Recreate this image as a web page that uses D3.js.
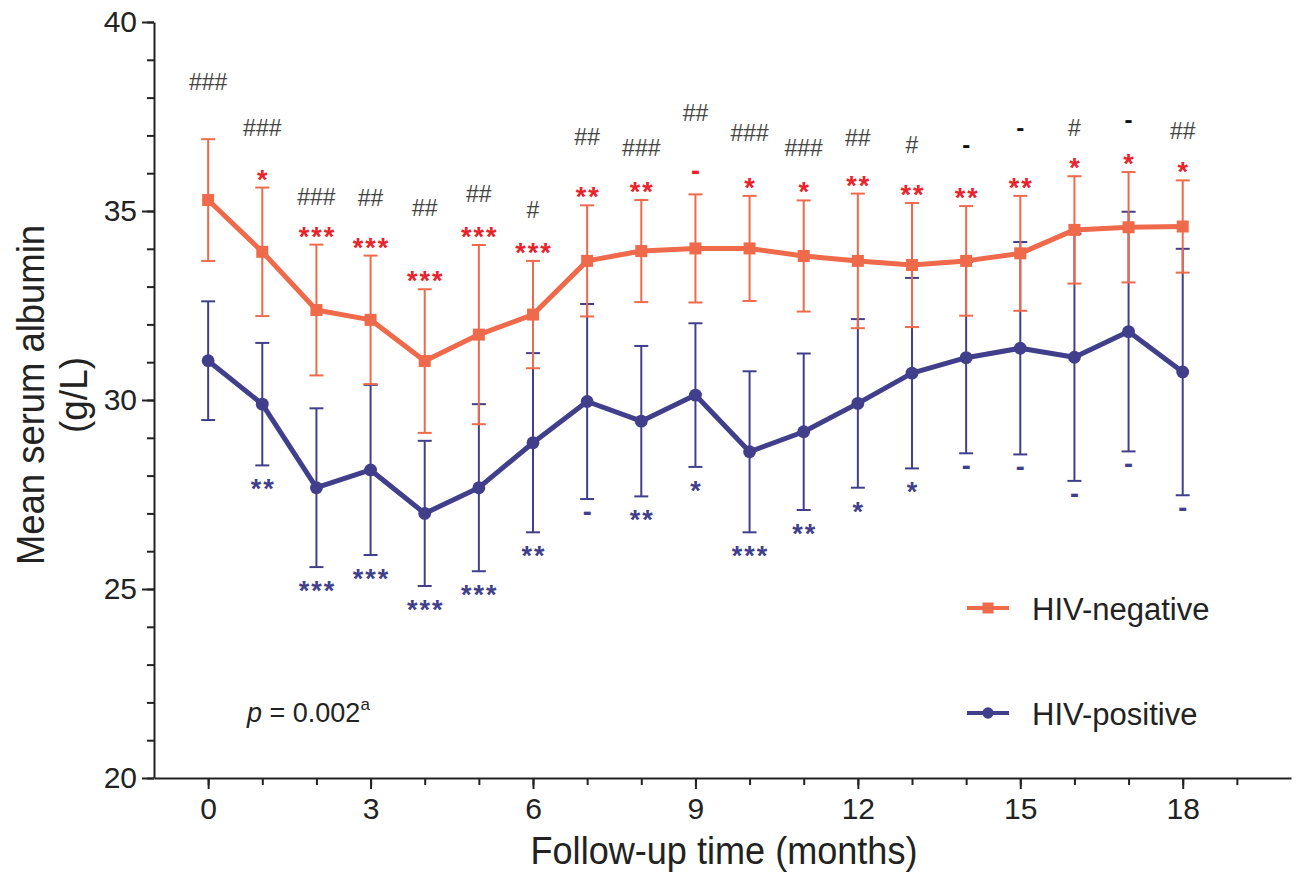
<!DOCTYPE html>
<html>
<head>
<meta charset="utf-8">
<script src="https://cdn.jsdelivr.net/npm/d3@7"></script>
<style>
  body { margin: 0; background: #fff; }
  text { font-family: "Liberation Sans", Arial, sans-serif; }
</style>
</head>
<body>
<div id="chart"></div>
<script>
// data
var months = [0, 1, 2, 3, 4, 5, 6, 7, 8, 9, 10, 11, 12, 13, 14, 15, 16, 17, 18];

var negMean = [35.29, 33.92, 32.38, 32.12, 31.03, 31.73, 32.26, 33.68, 33.94, 34.01, 34.01, 33.81, 33.68, 33.57, 33.68, 33.88, 34.50, 34.57, 34.59];
var negSD   = [1.61, 1.70, 1.73, 1.70, 1.90, 2.37, 1.42, 1.47, 1.35, 1.43, 1.39, 1.47, 1.78, 1.64, 1.45, 1.52, 1.42, 1.46, 1.22];

var posMean = [31.04, 29.89, 27.68, 28.15, 27.00, 27.68, 28.87, 29.96, 29.44, 30.13, 28.63, 29.16, 29.91, 30.71, 31.12, 31.37, 31.13, 31.81, 30.74];
var posSD   = [1.57, 1.62, 2.10, 2.25, 1.92, 2.21, 2.37, 2.58, 1.99, 1.90, 2.13, 2.07, 2.23, 2.52, 2.53, 2.81, 3.27, 3.17, 3.26];

// significance marks
var negMarks = ["", "*", "***", "***", "***", "***", "***", "**", "**", "-", "*", "*", "**", "**", "**", "**", "*", "*", "*"];
var posMarks = ["", "**", "***", "***", "***", "***", "**", "-", "**", "*", "***", "**", "*", "*", "-", "-", "-", "-", "-"];
var betweenMarks = ["###", "###", "###", "##", "##", "##", "#", "##", "###", "##", "###", "###", "##", "#", "-", "-", "#", "-", "##"];
var betweenLevel = [38.42, 37.20, 35.38, 35.35, 35.08, 35.45, 35.03, 36.97, 36.67, 37.59, 37.07, 36.67, 36.93, 36.75, 36.72, 37.18, 37.20, 37.38, 37.12];

var xTicks = [0, 3, 6, 9, 12, 15, 18];
var yTicks = [20, 25, 30, 35, 40];

var svgWidth = 1297;
var svgHeight = 878;

var margin = { top: 22, right: 6, bottom: 100, left: 154 };
var width = svgWidth - margin.left - margin.right;
var height = svgHeight - margin.top - margin.bottom;

var orange = "#ee6a4b";
var navy = "#413f8c";
var red = "#e8232b";

var svg = d3.select("#chart")
  .append("svg")
  .attr("width", svgWidth)
  .attr("height", svgHeight);

var chartGroup = svg.append("g")
  .attr("transform", `translate(${margin.left}, ${margin.top})`);

var x = d3.scaleLinear().domain([-1, 20]).range([0, width]);
var y = d3.scaleLinear().domain([20, 40]).range([height, 0]);

// minor ticks first, then major axes
chartGroup.append("g")
  .attr("transform", `translate(0, ${height})`)
  .call(d3.axisBottom(x).tickValues(d3.range(0, 20)).tickSize(7).tickSizeOuter(0).tickFormat(""))
  .call(g => g.select(".domain").remove())
  .selectAll("line").attr("stroke", "#222").attr("stroke-width", 2);

chartGroup.append("g")
  .call(d3.axisLeft(y).tickValues(d3.range(20, 41)).tickSize(7).tickSizeOuter(0).tickFormat(""))
  .call(g => g.select(".domain").remove())
  .selectAll("line").attr("stroke", "#222").attr("stroke-width", 2);

var xAxis = chartGroup.append("g")
  .attr("transform", `translate(0, ${height})`)
  .call(d3.axisBottom(x).tickValues(xTicks).tickSize(11).tickPadding(9).tickSizeOuter(0));

var yAxis = chartGroup.append("g")
  .call(d3.axisLeft(y).tickValues(yTicks).tickSize(12).tickPadding(5).tickSizeOuter(0));

[xAxis, yAxis].forEach(function(ax) {
  ax.select(".domain").attr("stroke", "#222").attr("stroke-width", 2);
  ax.selectAll("line").attr("stroke", "#222").attr("stroke-width", 2);
  ax.selectAll("text")
    .attr("font-size", "30px")
    .attr("font-family", "Liberation Sans, Arial, sans-serif")
    .attr("fill", "#222");
});

// series
var series = [
  { name: "HIV-negative", mean: negMean, sd: negSD, color: orange, shape: "square", marks: negMarks },
  { name: "HIV-positive", mean: posMean, sd: posSD, color: navy, shape: "circle", marks: posMarks }
];

// draw the positive group first so the negative group sits on top
series.slice().reverse().forEach(function(s) {
  var pts = months.map((m, i) => ({ m: m, v: s.mean[i], sd: s.sd[i] }));
  var g = chartGroup.append("g");

  var bars = g.selectAll(".err").data(pts).enter().append("g");
  bars.append("line")
    .attr("x1", d => x(d.m)).attr("x2", d => x(d.m))
    .attr("y1", d => y(d.v + d.sd)).attr("y2", d => y(d.v - d.sd))
    .attr("stroke", s.color).attr("stroke-width", 2);
  bars.append("line")
    .attr("x1", d => x(d.m) - 7).attr("x2", d => x(d.m) + 7)
    .attr("y1", d => y(d.v + d.sd)).attr("y2", d => y(d.v + d.sd))
    .attr("stroke", s.color).attr("stroke-width", 2);
  bars.append("line")
    .attr("x1", d => x(d.m) - 7).attr("x2", d => x(d.m) + 7)
    .attr("y1", d => y(d.v - d.sd)).attr("y2", d => y(d.v - d.sd))
    .attr("stroke", s.color).attr("stroke-width", 2);

  g.append("path")
    .datum(pts)
    .attr("fill", "none")
    .attr("stroke", s.color)
    .attr("stroke-width", 5)
    .attr("stroke-linejoin", "round")
    .attr("d", d3.line().x(d => x(d.m)).y(d => y(d.v)));

  var sym = d3.symbol().type(s.shape === "square" ? d3.symbolSquare : d3.symbolCircle).size(s.shape === "square" ? 144 : 130);
  g.selectAll(".pt").data(pts).enter().append("path")
    .attr("transform", d => `translate(${x(d.m)}, ${y(d.v)})`)
    .attr("d", sym)
    .attr("fill", s.color);
});

// significance marks
var markFont = "DejaVu Sans, sans-serif";

chartGroup.selectAll(".negmark")
  .data(months.map((m, i) => ({ m: m, t: negMarks[i], top: negMean[i] + negSD[i] })))
  .enter().append("text")
  .attr("x", d => x(d.m) + 1)
  .attr("y", d => y(d.top) + (d.t === "-" ? -14 : 1))
  .attr("text-anchor", "middle")
  .attr("font-family", markFont)
  .attr("font-weight", "bold")
  .attr("font-size", "27px")
  .attr("letter-spacing", "2px")
  .attr("fill", red)
  .text(d => d.t);

chartGroup.selectAll(".posmark")
  .data(months.map((m, i) => ({ m: m, t: posMarks[i], bot: posMean[i] - posSD[i] })))
  .enter().append("text")
  .attr("x", d => x(d.m) + 1)
  .attr("y", d => y(d.bot) + (d.t === "-" ? 22 : 33))
  .attr("text-anchor", "middle")
  .attr("font-family", markFont)
  .attr("font-weight", "bold")
  .attr("font-size", "27px")
  .attr("letter-spacing", "2px")
  .attr("fill", navy)
  .text(d => d.t);

chartGroup.selectAll(".betweenmark")
  .data(months.map((m, i) => ({ m: m, t: betweenMarks[i], lv: betweenLevel[i] })))
  .enter().append("text")
  .attr("x", d => x(d.m))
  .attr("y", d => y(d.lv) + (d.t === "-" ? 7 : 8))
  .attr("text-anchor", "middle")
  .attr("font-family", d => d.t === "-" ? markFont : "Liberation Sans, Arial, sans-serif")
  .attr("font-weight", d => d.t === "-" ? "bold" : "normal")
  .attr("font-size", d => d.t === "-" ? "24px" : "23px")
  .attr("fill", d => d.t === "-" ? "#111" : "#444")
  .text(d => d.t);

// legend
var legend = chartGroup.append("g")
  .attr("transform", `translate(${967 - margin.left}, ${608 - margin.top})`);

series.forEach(function(s, i) {
  var row = legend.append("g").attr("transform", `translate(0, ${i * 105})`);
  row.append("line")
    .attr("x1", 0).attr("x2", 42).attr("y1", 0).attr("y2", 0)
    .attr("stroke", s.color).attr("stroke-width", 4);
  row.append("path")
    .attr("transform", "translate(21, 0)")
    .attr("d", d3.symbol().type(s.shape === "square" ? d3.symbolSquare : d3.symbolCircle).size(s.shape === "square" ? 120 : 100))
    .attr("fill", s.color);
  row.append("text")
    .attr("x", 65)
    .attr("y", 12)
    .attr("font-size", "31px")
    .attr("fill", "#222")
    .text(s.name);
});

// p value
var pText = chartGroup.append("text")
  .attr("x", 247 - margin.left)
  .attr("y", 722 - margin.top)
  .attr("font-size", "27px")
  .attr("fill", "#222");
pText.append("tspan").attr("font-style", "italic").text("p");
pText.append("tspan").text(" = 0.002");
pText.append("tspan").attr("font-size", "17px").attr("dy", -12).text("a");

// axis titles
svg.append("text")
  .attr("transform", "translate(44, 395) rotate(-90)")
  .attr("text-anchor", "middle")
  .attr("font-size", "39px")
  .attr("textLength", 340)
  .attr("lengthAdjust", "spacingAndGlyphs")
  .attr("fill", "#222")
  .text("Mean serum albumin");

svg.append("text")
  .attr("transform", "translate(87, 395) rotate(-90)")
  .attr("text-anchor", "middle")
  .attr("font-size", "39px")
  .attr("textLength", 76)
  .attr("lengthAdjust", "spacingAndGlyphs")
  .attr("fill", "#222")
  .text("(g/L)");

svg.append("text")
  .attr("x", 724)
  .attr("y", 864)
  .attr("text-anchor", "middle")
  .attr("font-size", "39px")
  .attr("textLength", 387)
  .attr("lengthAdjust", "spacingAndGlyphs")
  .attr("fill", "#222")
  .text("Follow-up time (months)");
</script>
</body>
</html>
